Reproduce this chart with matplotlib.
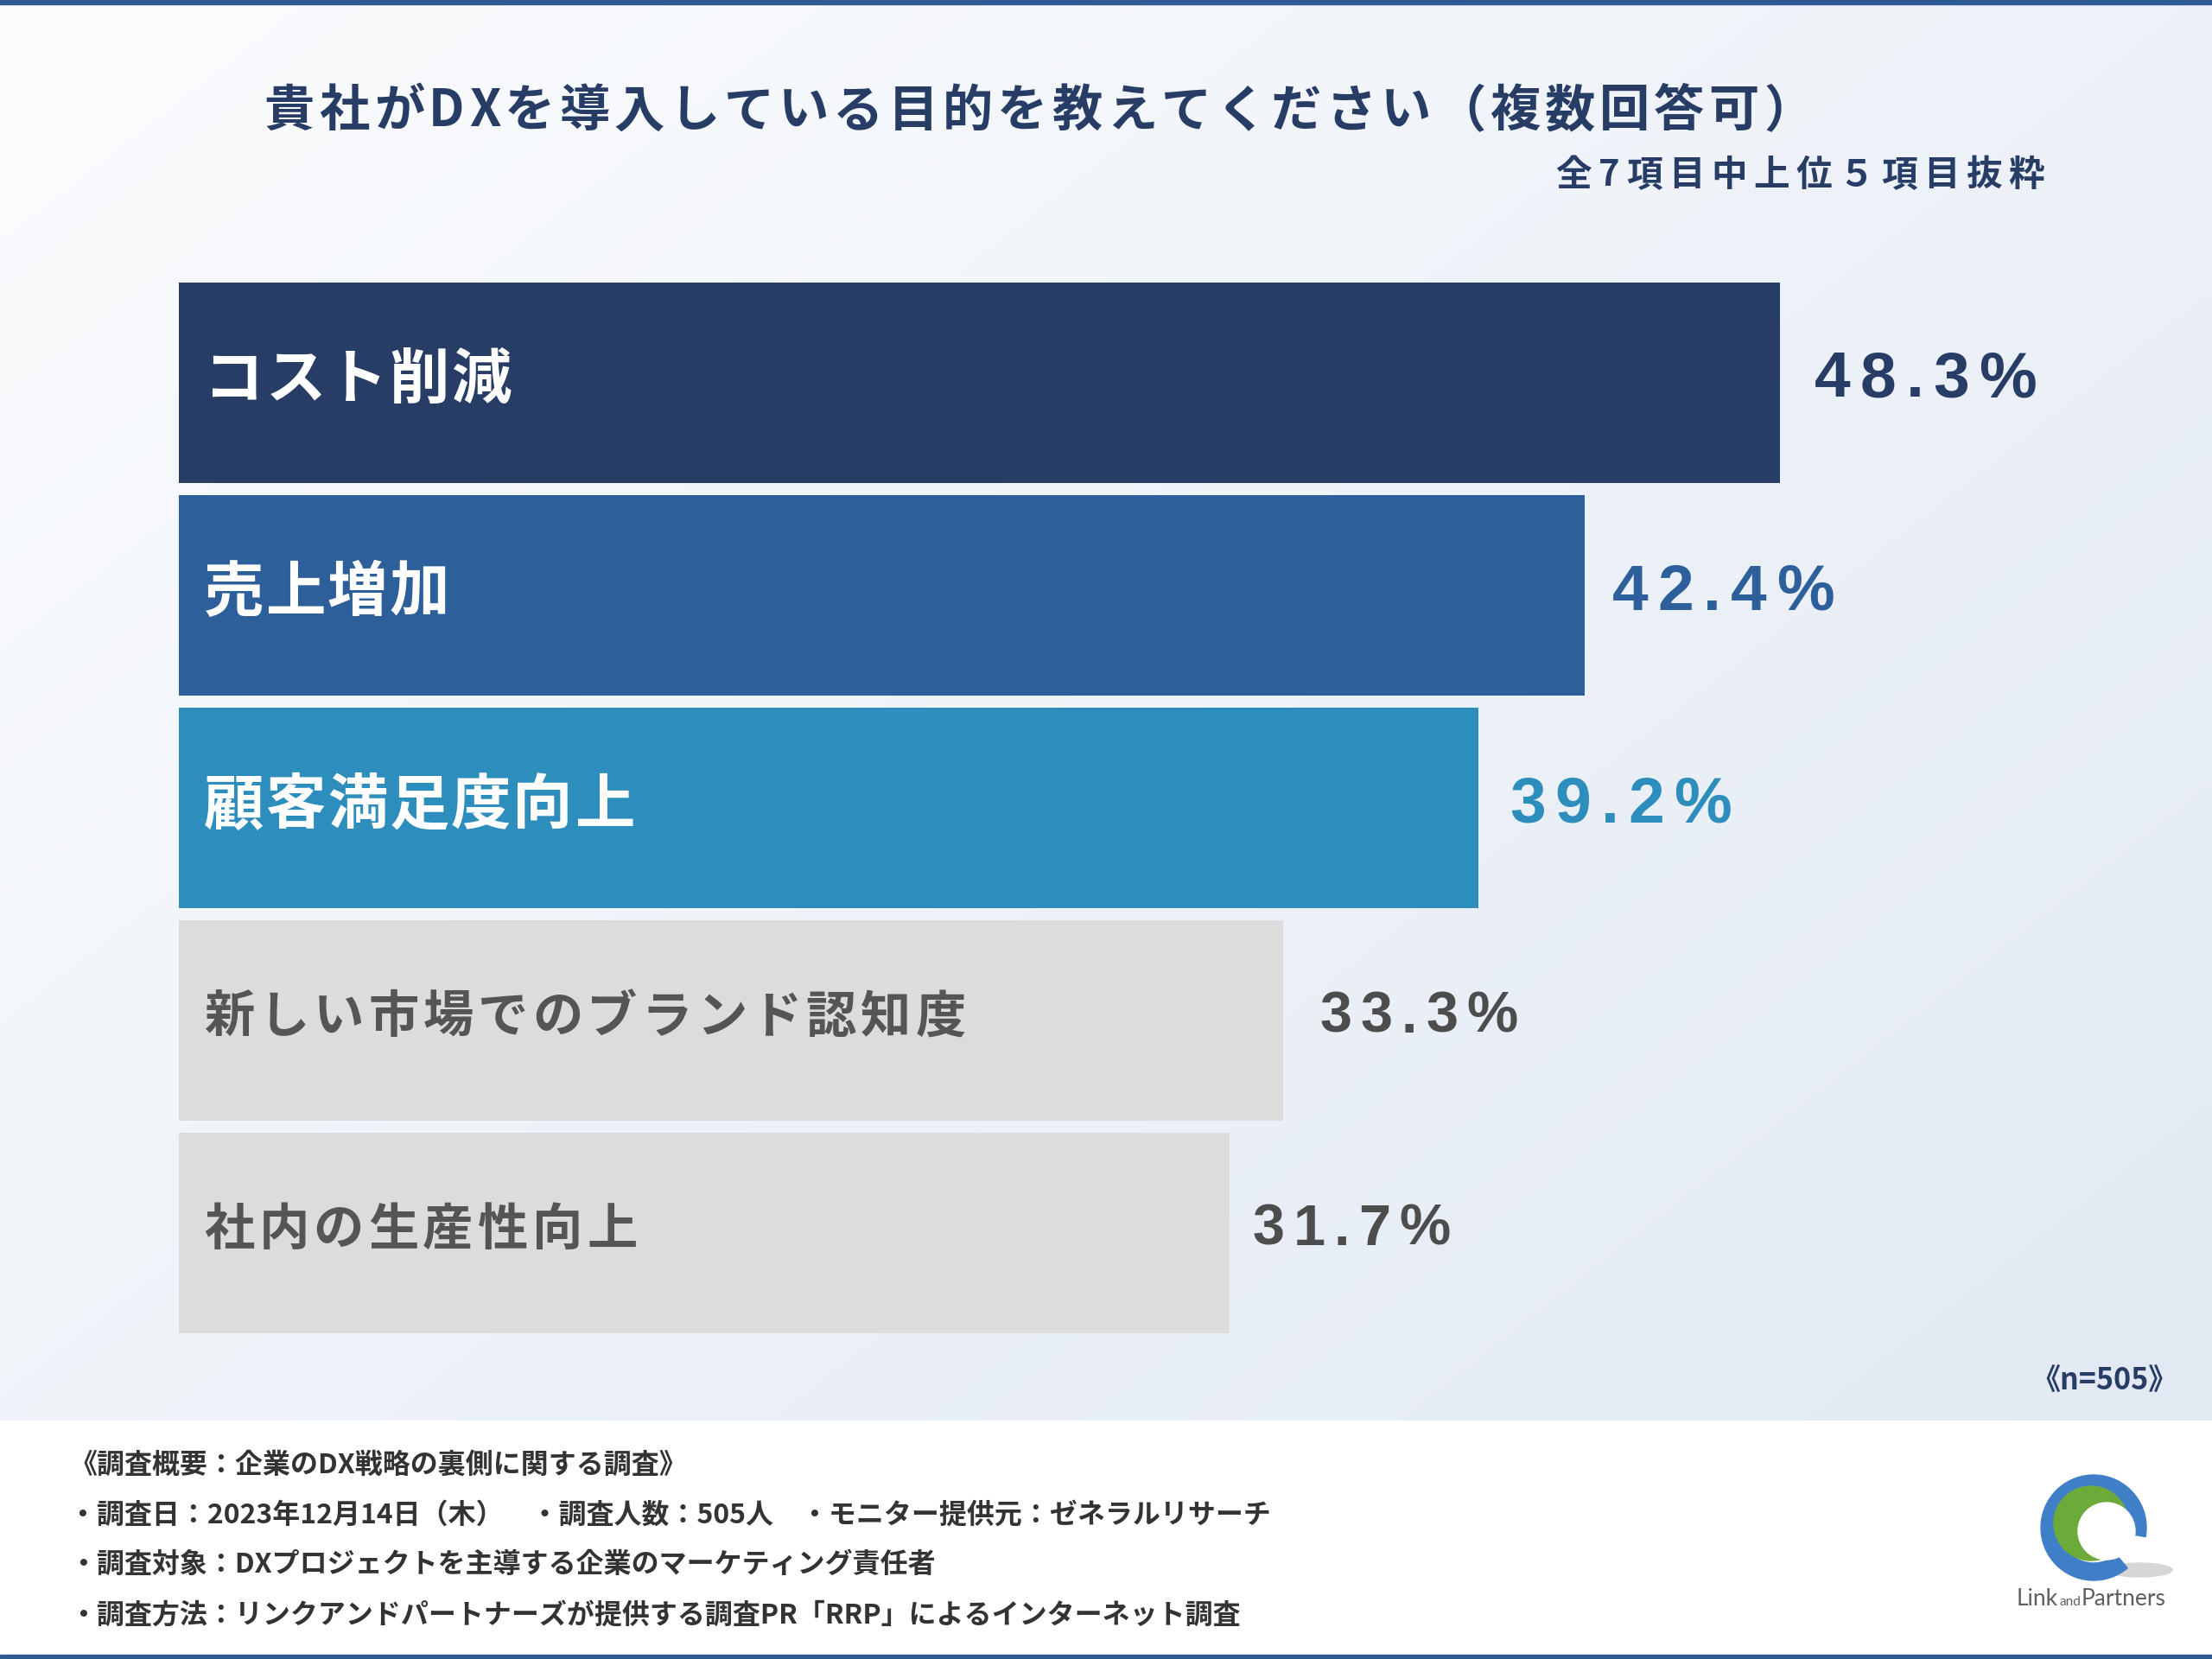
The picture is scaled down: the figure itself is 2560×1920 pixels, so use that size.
import matplotlib
matplotlib.use("Agg")
import matplotlib.pyplot as plt
import numpy as np
from matplotlib.font_manager import FontProperties, findfont
from matplotlib.ft2font import FT2Font
from matplotlib.transforms import IdentityTransform
from matplotlib.patches import Rectangle, Wedge, Circle, Ellipse

# ---- data ----
categories = ["コスト削減", "売上増加", "顧客満足度向上",
              "新しい市場でのブランド認知度", "社内の生産性向上"]
values = [48.3, 42.4, 39.2, 33.3, 31.7]

title = "貴社がDXを導入している目的を教えてください（複数回答可）"
subtitle = "全7項目中上位５項目抜粋"
sample_note = "《n=505》"
footer_lines = [
    "《調査概要：企業のDX戦略の裏側に関する調査》",
    "・調査日：2023年12月14日（木）　・調査人数：505人　・モニター提供元：ゼネラルリサーチ",
    "・調査対象：DXプロジェクトを主導する企業のマーケティング責任者",
    "・調査方法：リンクアンドパートナーズが提供する調査PR「RRP」によるインターネット調査",
]

# ---- styles ----
bar_colors = ["#283d66", "#2d5f9a", "#2d8dbd", "#dcdcdc", "#dcdcdc"]
value_colors = ["#283d66", "#2d5f9a", "#2d8dbd", "#4d4d4d", "#4d4d4d"]
name_colors = ["white", "white", "white", "#555555", "#555555"]
name_sizes = [50, 50, 50, 42, 42]
name_tracks = [2, 2, 2, 5, 5]
value_sizes = [54, 54, 54, 48, 48]
value_gaps = [42, 34, 38, 45, 28]
NAVY = "#283d66"
LINE_BLUE = "#2e5a94"

W, H, DPI = 2560, 1920, 100
JP = "Noto Sans CJK JP"
NUM = "Liberation Sans"
plt.rcParams["font.family"] = [JP, "DejaVu Sans"]

fig = plt.figure(figsize=(W / DPI, H / DPI), dpi=DPI)
fig.patch.set_facecolor("white")

# background layer, pixel coordinates with y going down
bg = fig.add_axes([0, 0, 1, 1], zorder=0)
bg.set_xlim(0, W)
bg.set_ylim(H, 0)
bg.axis("off")

panel_h = 1644
gx, gy = np.meshgrid(np.linspace(0, 1, 256), np.linspace(0, 1, 200))
t = 0.55 * gx + 0.45 * gy
c0 = np.array([0.985, 0.990, 0.996])
c1 = np.array([0.886, 0.914, 0.953])
grad = c0[None, None, :] + t[..., None] * (c1 - c0)[None, None, :]
bg.imshow(grad, extent=[0, W, panel_h, 0], aspect="auto", interpolation="bilinear", zorder=0)
bg.add_patch(Rectangle((0, 0), W, 5, color=LINE_BLUE, zorder=2))
bg.add_patch(Rectangle((0, H - 5), W, 5, color=LINE_BLUE, zorder=2))

# logo
bg.add_patch(Ellipse((2476, 1817), 76, 16, color="#d6d6d6", zorder=2))
bg.add_patch(Wedge((2423, 1768), 61, 50, 370, width=20, color="#3f7fc8", zorder=3))
bg.add_patch(Circle((2420, 1763), 43, color="#6cab3a", zorder=3))
bg.add_patch(Circle((2438, 1772), 33, color="white", zorder=4))


_fonts = {}


def advances(s, family, size):
    key = (family, size)
    if key not in _fonts:
        f = FT2Font(findfont(FontProperties(family=family, weight="bold")))
        f.set_size(size, DPI)
        _fonts[key] = f
    f = _fonts[key]
    return [f.load_char(ord(ch)).linearHoriAdvance / 65536 for ch in s]


def tracked(x, y, s, size, color, family=JP, track=0.0, ha="left"):
    """Draw s with extra letter spacing; x, y in pixels from top-left, y = baseline."""
    adv = advances(s, family, size)
    total = sum(adv) + track * (len(s) - 1)
    if ha == "right":
        x -= total
    elif ha == "center":
        x -= total / 2
    for ch, a in zip(s, adv):
        fig.text(x, H - y, ch, transform=IdentityTransform(), fontsize=size,
                 family=[family, "DejaVu Sans"], weight="bold", color=color,
                 ha="left", va="baseline")
        x += a + track


def em(size):
    return size * DPI / 72


# ---- bars ----
px_per_pct = 38.37
ax = fig.add_axes([207 / W, 1 - 1550 / H, 60 * px_per_pct / W, 1230.5 / H], zorder=1)
ax.patch.set_alpha(0)
ypos = np.arange(len(values))
ax.barh(ypos, values, height=0.943, color=bar_colors)
ax.set_xlim(0, 60)
ax.set_ylim(len(values) - 0.5, -0.5)
ax.axis("off")

for i, (name, v) in enumerate(zip(categories, values)):
    x0, yc = ax.transData.transform((0, i))
    x1, _ = ax.transData.transform((v, i))
    ytop = H - yc
    # category name inside the bar
    s = name_sizes[i]
    tracked(x0 + 29, ytop - 8 + 0.38 * em(s), name, s, name_colors[i],
            track=name_tracks[i])
    # value label right of the bar
    s = value_sizes[i]
    tracked(x1 + value_gaps[i] - 2, ytop - 10 + 0.358 * em(s), f"{v:.1f}%", s,
            value_colors[i], family=NUM, track=11 if s > 50 else 10)

# ---- titles ----
tracked(306, 124 + 0.38 * em(42), title, 42, NAVY, track=5)
tracked(2366, 199 + 0.38 * em(30), subtitle, 30, NAVY, track=7.5, ha="right")

fig.text(2521, H - 1597, sample_note, transform=IdentityTransform(), fontsize=24.5,
         weight="bold", color=NAVY, ha="right", va="center")

# ---- footer ----
for line, yc in zip(footer_lines, [1693, 1750, 1808, 1866]):
    fig.text(80, H - (yc + 0.38 * em(23)), line, transform=IdentityTransform(),
             fontsize=23, weight="bold", color="#333333", ha="left", va="baseline")

fig.text(2382, H - 1858, "Link", transform=IdentityTransform(), fontsize=19,
         family="Lato", color="#5f5f5f", ha="right", va="baseline")
fig.text(2396, H - 1858, "and", transform=IdentityTransform(), fontsize=11,
         family="Lato", color="#5f5f5f", ha="center", va="baseline")
fig.text(2409, H - 1858, "Partners", transform=IdentityTransform(), fontsize=19,
         family="Lato", color="#5f5f5f", ha="left", va="baseline")

fig.savefig("out.png", dpi=DPI)
